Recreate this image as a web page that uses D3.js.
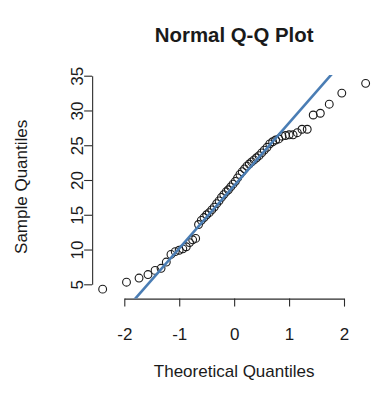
<!DOCTYPE html>
<html>
<head>
<meta charset="utf-8">
<script src="https://cdn.jsdelivr.net/npm/d3@7"></script>
<style>
  html, body { margin: 0; padding: 0; background: #ffffff; }
  svg { display: block; }
  text { font-family: "Liberation Sans", Arial, Helvetica, sans-serif; fill: #1a1a1a; }
</style>
</head>
<body>
<svg id="chart" width="389" height="396"></svg>
<script>
// ---- data (sorted sample values) ----
const sampleValues = [
  4.3, 5.3, 5.9, 6.4, 7.0, 7.3, 8.2, 9.3, 9.7, 9.9,
  10.1, 10.4, 11.0, 11.4, 11.6, 13.6, 14.2, 14.6, 15.0, 15.3,
  15.7, 16.1, 16.6, 17.0, 17.5, 17.9, 18.3, 18.6, 19.0, 19.4,
  19.8, 20.3, 20.8, 21.2, 21.6, 22.0, 22.3, 22.6, 22.9, 23.2,
  23.5, 23.9, 24.3, 24.7, 25.2, 25.5, 25.75, 25.9, 26.3, 26.4,
  26.5, 26.5, 26.8, 27.3, 27.3, 29.35, 29.6, 30.9, 32.5, 33.9
];
const xTicks = [-2, -1, 0, 1, 2];
const yTicks = [5, 10, 15, 20, 25, 30, 35];
const titleText = "Normal Q-Q Plot";
const xLabel = "Theoretical Quantiles";
const yLabel = "Sample Quantiles";

(function () {
// ---- Q-Q helpers (as R's qqnorm / qqline) ----
function qnorm(p) {
  // Acklam's inverse normal CDF approximation
  const a = [-39.69683028665376, 220.9460984245205, -275.9285104469687, 138.3577518672690, -30.66479806614716, 2.506628277459239];
  const b = [-54.47609879822406, 161.5858368580409, -155.6989798598866, 66.80131188771972, -13.28068155288572];
  const c = [-0.007784894002430293, -0.3223964580411365, -2.400758277161838, -2.549732539343734, 4.374664141464968, 2.938163982698783];
  const d = [0.007784695709041462, 0.3224671290700398, 2.445134137142996, 3.754408661907416];
  const pl = 0.02425, ph = 1 - pl;
  let q, r;
  if (p < pl) {
    q = Math.sqrt(-2 * Math.log(p));
    return (((((c[0]*q+c[1])*q+c[2])*q+c[3])*q+c[4])*q+c[5]) / ((((d[0]*q+d[1])*q+d[2])*q+d[3])*q+1);
  } else if (p <= ph) {
    q = p - 0.5; r = q*q;
    return (((((a[0]*r+a[1])*r+a[2])*r+a[3])*r+a[4])*r+a[5])*q / (((((b[0]*r+b[1])*r+b[2])*r+b[3])*r+b[4])*r+1);
  } else {
    q = Math.sqrt(-2 * Math.log(1 - p));
    return -(((((c[0]*q+c[1])*q+c[2])*q+c[3])*q+c[4])*q+c[5]) / ((((d[0]*q+d[1])*q+d[2])*q+d[3])*q+1);
  }
}
const n = sampleValues.length;
const aa = n <= 10 ? 3 / 8 : 0.5;
const sorted = sampleValues.slice().sort((u, v) => u - v);
const points = sorted.map((v, i) => ({ q: qnorm((i + 1 - aa) / (n + 1 - 2 * aa)), v }));

// qqline through the quartiles
const yq1 = d3.quantile(sorted, 0.25), yq3 = d3.quantile(sorted, 0.75);
const xq1 = qnorm(0.25), xq3 = qnorm(0.75);
const slope = (yq3 - yq1) / (xq3 - xq1);
const intercept = yq1 - slope * xq1;

// ---- layout ----
const svg = d3.select("#chart");
const x = d3.scaleLinear().domain([-2, 2]).range([124.3, 344]);
const y = d3.scaleLinear().domain([5, 35]).range([284.3, 75.7]);

// plot region = data range extended by 4% (R's default)
const qExt = d3.extent(points, d => d.q), vExt = d3.extent(points, d => d.v);
const qPad = (qExt[1] - qExt[0]) * 0.04, vPad = (vExt[1] - vExt[0]) * 0.04;
const usrX = [qExt[0] - qPad, qExt[1] + qPad];
const usrY = [vExt[0] - vPad, vExt[1] + vPad];
const pLeft = x(usrX[0]), pRight = x(usrX[1]);
const pTop = y(usrY[1]), pBottom = 298.6;
const tickLen = 8;
const axisColor = "#2b2b2b";

// x axis
const gx = svg.append("g").attr("transform", `translate(0,${pBottom})`);
gx.call(d3.axisBottom(x).tickValues(xTicks).tickSize(tickLen).tickSizeOuter(0).tickPadding(21).tickFormat(d3.format("d")));
gx.select(".domain").attr("stroke", axisColor).attr("stroke-width", 1.1);
gx.selectAll(".tick line").attr("stroke", axisColor).attr("stroke-width", 1.1);
gx.selectAll(".tick text").attr("font-size", 17).attr("fill", "#1a1a1a")
  .attr("font-family", '"Liberation Sans", Arial, sans-serif').text(d => d < 0 ? "-" + Math.abs(d) : String(d));

// y axis
const gy = svg.append("g").attr("transform", `translate(${pLeft},0)`);
gy.call(d3.axisLeft(y).tickValues(yTicks).tickSize(tickLen).tickSizeOuter(0).tickFormat(d3.format("d")));
gy.select(".domain").attr("stroke", axisColor).attr("stroke-width", 1.1);
gy.selectAll(".tick line").attr("stroke", axisColor).attr("stroke-width", 1.1);
gy.selectAll(".tick text").remove();
gy.selectAll(".tick").append("text")
  .attr("transform", "translate(-9,0) rotate(-90)")
  .attr("text-anchor", "middle")
  .attr("font-size", 17)
  .attr("fill", "#1a1a1a")
  .text(d => d);

// clip
svg.append("clipPath").attr("id", "plotclip")
  .append("rect").attr("x", pLeft).attr("y", pTop).attr("width", pRight - pLeft).attr("height", pBottom - pTop);

// points
svg.append("g").selectAll("circle").data(points).join("circle")
  .attr("cx", d => x(d.q)).attr("cy", d => y(d.v)).attr("r", 3.9)
  .attr("fill", "none").attr("stroke", "#1a1a1a").attr("stroke-width", 1.1);

// qq line
svg.append("line")
  .attr("clip-path", "url(#plotclip)")
  .attr("x1", x(usrX[0])).attr("y1", y(intercept + slope * usrX[0]))
  .attr("x2", x(usrX[1])).attr("y2", y(intercept + slope * usrX[1]))
  .attr("stroke", "#4a7db4").attr("stroke-width", 2.6);

// titles
const cx = (pLeft + pRight) / 2;
svg.append("text").attr("x", cx).attr("y", 42).attr("text-anchor", "middle")
  .attr("font-size", 20.4).attr("font-weight", "bold").text(titleText);
svg.append("text").attr("x", cx).attr("y", 377).attr("text-anchor", "middle")
  .attr("font-size", 17).text(xLabel);
svg.append("text").attr("transform", `translate(26.5,${(pTop + pBottom) / 2}) rotate(-90)`)
  .attr("text-anchor", "middle").attr("font-size", 17).text(yLabel);
})();
</script>
</body>
</html>
